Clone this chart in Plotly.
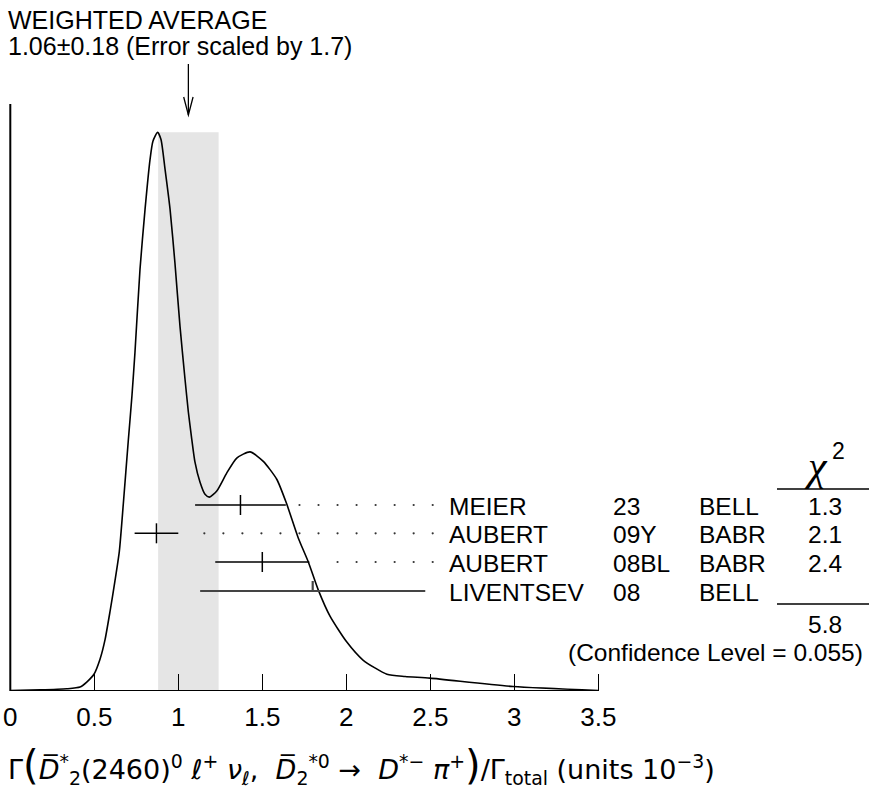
import plotly.graph_objects as go

# ---------------- data ----------------
curve_x = [0.000, 0.177, 0.336, 0.415, 0.455, 0.498, 0.534, 0.564, 0.594, 0.623,
           0.649, 0.673, 0.702, 0.724, 0.742, 0.772, 0.802, 0.832, 0.849, 0.877,
           0.897, 0.921, 0.951, 0.980, 1.010, 1.040, 1.060, 1.080, 1.099, 1.129,
           1.159, 1.185, 1.229, 1.288, 1.348, 1.427, 1.506, 1.586, 1.645, 1.714,
           1.774, 1.833, 1.903, 2.002, 2.101, 2.242, 2.350, 2.498, 2.992, 3.500]
curve_y = [0.001, 0.002, 0.004, 0.007, 0.016, 0.030, 0.057, 0.092, 0.143, 0.197,
           0.250, 0.336, 0.447, 0.528, 0.606, 0.755, 0.862, 0.952, 0.984, 1.000,
           0.987, 0.934, 0.862, 0.766, 0.653, 0.558, 0.499, 0.451, 0.410, 0.374,
           0.352, 0.347, 0.358, 0.390, 0.417, 0.428, 0.411, 0.379, 0.335, 0.274,
           0.231, 0.181, 0.134, 0.088, 0.055, 0.030, 0.026, 0.023, 0.008, 0.001]

authors = ["MEIER", "AUBERT", "AUBERT", "LIVENTSEV"]
docs = ["23", "09Y", "08BL", "08"]
techs = ["BELL", "BABR", "BABR", "BELL"]
values = [1.37, 0.87, 1.50, 1.80]
err_minus = [0.27, 0.13, 0.28, 0.67]
err_plus = [0.27, 0.13, 0.28, 0.67]
chi2_vals = ["1.3", "2.1", "2.4", ""]
used_in_fit = [True, True, True, False]

avg_value = 1.06
avg_error = 0.18
scale_factor = 1.7
chi2_total = "5.8"
conf_level = "0.055"

tick_vals = [0, 0.5, 1, 1.5, 2, 2.5, 3, 3.5]
tick_text = ["0", "0.5", "1", "1.5", "2", "2.5", "3", "3.5"]

# ---------------- geometry helpers (pixel -> data) ----------------
W, H = 869, 797
X0_PX = 10.3
PX_PER_X = 168.0
AXIS_Y_PX = 691.0
PX_PER_Y = 558.7


def dx(px):
    return (px - X0_PX) / PX_PER_X


def dy(py):
    return (AXIS_Y_PX - py) / PX_PER_Y


def paper_y(py):
    return (AXIS_Y_PX - py) / AXIS_Y_PX


SANS = "Liberation Sans, Arial, Helvetica, sans-serif"
LBL = 24.5
row_px = [505, 533.3, 562, 591]
tick_half = 10 / PX_PER_Y

fig = go.Figure()

# ideogram curve
fig.add_trace(go.Scatter(x=curve_x, y=curve_y, mode="lines",
                         line=dict(color="black", width=1.6, shape="spline", smoothing=0.6),
                         hoverinfo="skip"))

# measurements
for grp_used, color, width in [(True, "black", 1.5), (False, "#444444", 2.2)]:
    xs, ys = [], []
    for i, v in enumerate(values):
        if used_in_fit[i] != grp_used:
            continue
        yr = dy(row_px[i])
        xs += [v - err_minus[i], v + err_plus[i], None]
        ys += [yr, yr, None]
        if grp_used:
            xs += [v, v, None]
            ys += [yr - tick_half, yr + tick_half, None]
        else:
            xs += [v, v, None]
            ys += [yr, yr + tick_half, None]
    fig.add_trace(go.Scatter(x=xs, y=ys, mode="lines",
                             line=dict(color=color, width=width), hoverinfo="skip"))

# dotted leaders from error bar to label
dot_last = dx(432.7)
dot_step = 19.03 / PX_PER_X
gap = 12 / PX_PER_X
dxs, dys = [], []
for i, v in enumerate(values):
    if not used_in_fit[i]:
        continue
    end = v + err_plus[i] + gap
    k = 0
    while dot_last - k * dot_step > end:
        dxs.append(dot_last - k * dot_step)
        dys.append(dy(row_px[i]))
        k += 1
fig.add_trace(go.Scatter(x=dxs, y=dys, mode="markers",
                         marker=dict(color="#333333", size=2.2, symbol="circle"),
                         hoverinfo="skip"))

shapes = []
# weighted average band
shapes.append(dict(type="rect", xref="x", yref="y", x0=avg_value - avg_error, x1=avg_value + avg_error,
                   y0=0, y1=max(curve_y), fillcolor="#e5e5e5", line=dict(width=0), layer="below"))
# axes lines
shapes.append(dict(type="line", xref="x", yref="y", x0=tick_vals[0], x1=tick_vals[-1], y0=0, y1=0,
                   line=dict(color="black", width=2)))
shapes.append(dict(type="line", xref="x", yref="y", x0=0, x1=0, y0=0, y1=dy(104),
                   line=dict(color="black", width=2)))
# arrow
ax_w = 4.7 / PX_PER_X
shapes.append(dict(type="line", xref="x", yref="y", x0=avg_value, x1=avg_value, y0=dy(64), y1=dy(115),
                   line=dict(color="black", width=1.3)))
shapes.append(dict(type="path", xref="x", yref="y",
                   path=f"M {avg_value - ax_w},{dy(97)} L {avg_value},{dy(115)} L {avg_value + ax_w},{dy(97)}",
                   line=dict(color="black", width=1.3)))
# chi2 rules
for py in (489, 604):
    shapes.append(dict(type="line", xref="x", yref="y", x0=dx(777), x1=dx(869), y0=dy(py), y1=dy(py),
                       line=dict(color="black", width=1.3)))

ann = []


def text(x, y, s, size=LBL, anchor="left", family=SANS):
    ann.append(dict(x=x, y=y, xref="x", yref="y", text=s, showarrow=False,
                    xanchor=anchor, yanchor="middle", font=dict(family=family, size=size, color="black")))


text(dx(6), dy(20), "WEIGHTED AVERAGE", size=25)
text(dx(6), dy(46), f"{avg_value:.2f}\u00b1{avg_error:.2f} (Error scaled by {scale_factor})", size=25)

for i in range(len(authors)):
    yr = dy(row_px[i] + 1.5)
    text(dx(447), yr, authors[i])
    text(dx(611), yr, docs[i])
    text(dx(697), yr, techs[i])
    if chi2_vals[i]:
        text(dx(844), yr, chi2_vals[i], anchor="right")

text(dx(816), dy(466), "<i>\u03c7</i>", size=42, anchor="center", family="Liberation Serif, Times New Roman, serif")
text(dx(838), dy(451), "2", size=23, anchor="center")
text(dx(844), dy(624), chi2_total, anchor="right")
text(dx(865), dy(652), f"(Confidence Level = {conf_level})", anchor="right")

title = ('\u0393<span style="font-size:40px">(</span><i>D\u0305</i><sup>*</sup><sub>2</sub>(2460)<sup>0</sup> '
         '<i>\u2113</i><sup>+</sup> <i>\u03bd</i><sub><i>\u2113</i></sub>,  <i>D\u0305</i><sub>2</sub><sup>*0</sup> '
         '\u2192  <i>D</i><sup>*\u2212</sup> <i>\u03c0</i><sup>+</sup><span style="font-size:40px">)</span>'
         '/\u0393<sub>total</sub> (units 10<sup>\u22123</sup>)')
ann.append(dict(x=dx(6), y=paper_y(765), xref="x", yref="paper", text=title, showarrow=False,
                xanchor="left", yanchor="middle",
                font=dict(family="DejaVu Sans, sans-serif", size=27, color="black")))

fig.update_layout(
    width=W, height=H,
    margin=dict(l=0, r=0, t=0, b=H - AXIS_Y_PX, pad=0),
    paper_bgcolor="white", plot_bgcolor="white",
    showlegend=False,
    shapes=shapes, annotations=ann,
    xaxis=dict(range=[dx(0), dx(W)], showgrid=False, zeroline=False, showline=False,
               tickvals=tick_vals, ticktext=tick_text, ticks="inside", ticklen=17,
               tickwidth=1.3, tickcolor="black", ticklabelstandoff=8,
               tickfont=dict(family=SANS, size=26, color="black")),
    yaxis=dict(range=[0, dy(0)], visible=False, showgrid=False, zeroline=False),
)

fig.write_html("out.html", config={"displayModeBar": False},
               post_script="var d=document.getElementById('{plot_id}');"
                           "d.style.position='fixed';d.style.left='0px';d.style.top='0px';")
